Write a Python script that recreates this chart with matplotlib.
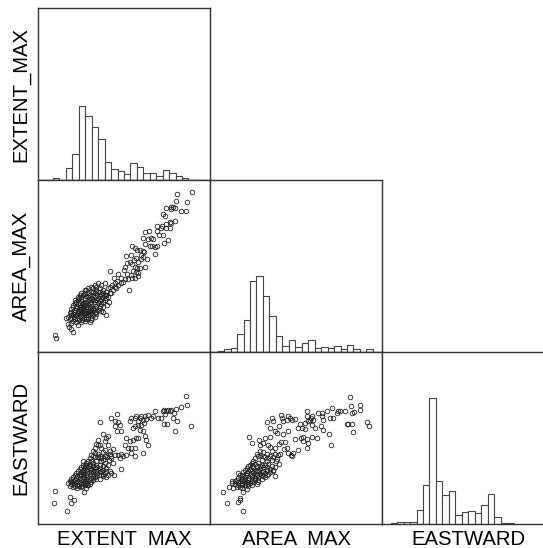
#!/usr/bin/env python3

import numpy as np
import matplotlib
matplotlib.use('Agg')
import matplotlib.pyplot as plt

# Variable names (all axes share a 0..516 unit range)
names = ['EXTENT_MAX', 'AREA_MAX', 'EASTWARD']
# bottom labels: the underscore sits below the canvas edge in the original
bottom_labels = ['EXTENT  MAX', 'AREA  MAX', 'EASTWARD']

# Diagonal histograms: first bin edge, bin width, bar heights
hist_extent_start, hist_extent_width = 45, 19.35
hist_extent = [6, 0, 37, 78, 223, 192, 160, 124, 54, 33, 27, 18, 51, 40, 21, 21, 12, 30, 21, 12, 6, 1]
hist_area_start, hist_area_width = 23, 19.4
hist_area = [3, 8, 13, 55, 97, 213, 227, 168, 109, 49, 19, 37, 16, 28, 37, 13, 16, 13, 19, 8, 22, 10, 0, 8]
hist_east_start, hist_east_width = 26, 19.4
hist_east = [4, 7, 7, 7, 43, 118, 379, 130, 86, 100, 28, 37, 40, 32, 58, 91, 22, 4, 4]

# EXTENT_MAX (x) vs AREA_MAX (y)
extent_area = [
    (461, 481), (416, 474), (415, 454), (446, 451), (385, 431), (398, 434), (405, 434), (410, 431),
    (400, 428), (430, 424), (444, 424), (376, 413), (380, 408), (395, 391), (412, 394), (385, 385),
    (400, 386), (373, 379), (357, 378), (370, 373), (385, 371), (396, 371), (333, 363), (322, 361),
    (357, 363), (362, 351), (374, 351), (314, 341), (330, 339), (340, 341), (345, 339), (390, 336),
    (378, 328), (322, 324), (335, 319), (343, 318), (357, 318), (350, 314), (283, 319), (290, 311),
    (296, 306), (305, 307), (315, 303), (318, 299), (310, 291), (350, 293), (315, 286), (265, 288),
    (278, 291), (293, 283), (287, 276), (275, 269), (300, 271), (310, 279), (328, 278), (268, 266),
    (283, 263), (290, 256), (297, 251), (305, 253), (320, 254), (262, 256), (217, 244), (258, 246),
    (286, 244), (293, 241), (300, 236), (268, 233), (240, 234), (278, 231), (250, 221), (228, 221),
    (260, 219), (270, 218), (282, 223), (290, 221), (300, 228), (238, 213), (272, 186), (248, 206),
    (255, 211),
    (230, 206), (222, 201), (215, 196), (210, 191), (200, 206), (190, 201), (180, 206), (170, 201),
    (160, 196), (150, 191), (145, 186), (165, 191), (175, 186), (185, 191), (195, 186), (205, 181),
    (215, 176), (225, 186), (235, 191), (140, 176), (150, 176), (160, 179), (170, 176), (180, 179),
    (190, 173), (200, 171), (210, 166), (130, 166), (140, 163), (150, 166), (160, 163), (170, 166),
    (180, 163), (190, 159), (200, 156), (212, 151), (120, 156), (130, 153), (140, 151), (150, 153),
    (160, 149), (170, 151), (180, 146), (190, 143), (208, 141), (110, 146), (120, 143), (130, 139),
    (140, 141), (150, 136), (160, 139), (170, 133), (185, 131), (195, 121), (105, 136), (115, 131),
    (125, 129), (135, 126), (145, 129), (155, 123), (165, 126), (175, 121), (100, 121), (110, 119),
    (120, 116), (130, 119), (140, 113), (150, 111), (160, 116), (190, 123), (98, 111), (108, 106),
    (118, 103), (128, 106), (138, 101), (150, 99), (162, 103), (172, 106), (205, 111), (85, 101),
    (95, 98), (105, 94), (115, 91), (128, 91), (140, 93), (155, 91), (90, 84), (100, 86), (120, 81),
    (92, 76), (98, 69), (105, 61), (50, 51), (53, 43), (195, 136), (178, 171), (130, 111), (122, 161),
    (112, 113), (145, 106), (135, 136), (165, 171), (155, 146),
    (125, 171), (135, 171), (145, 168), (155, 171), (165, 181), (185, 168), (195, 166), (205, 161),
    (115, 151), (125, 148), (135, 146), (145, 146), (155, 156), (165, 156), (175, 156), (185, 153),
    (195, 149), (105, 141), (115, 139), (125, 136), (135, 131), (145, 136), (155, 131), (165, 133),
    (175, 139), (185, 139), (100, 129), (110, 126), (120, 124), (130, 129), (140, 123), (150, 121),
    (160, 126), (170, 121), (180, 126), (95, 116), (105, 113), (115, 111), (125, 113), (135, 116),
    (145, 118), (155, 113), (165, 111), (175, 113), (90, 106), (100, 103), (112, 98), (122, 96),
    (133, 96), (145, 98), (160, 96), (175, 196), (185, 181), (195, 176), (205, 171), (220, 176),
    (230, 196), (240, 201), (140, 186), (130, 176), (120, 166), (110, 156),
]

# EXTENT_MAX (x) vs EASTWARD (y)
extent_east = [
    (443, 383), (447, 358), (428, 351), (415, 345), (400, 343), (390, 343), (385, 338), (375, 338),
    (378, 343), (395, 338), (408, 333), (405, 318), (380, 330), (370, 318), (360, 318), (350, 340),
    (345, 323), (340, 318), (330, 328), (320, 323), (310, 323), (305, 318), (295, 323), (290, 318),
    (280, 318), (275, 308), (300, 308), (315, 313), (318, 303), (325, 316), (310, 296), (300, 298),
    (290, 293), (285, 288), (305, 283), (315, 278), (320, 263), (323, 253), (330, 238), (315, 213),
    (280, 228), (290, 228), (295, 258), (285, 253), (300, 258), (275, 248), (265, 258), (262, 238),
    (270, 228), (278, 213), (292, 203), (416, 308), (378, 300), (386, 300), (410, 278), (460, 295),
    (237, 330), (220, 318), (230, 308), (240, 306), (245, 296), (232, 293), (185, 306), (238, 278),
    (250, 278), (195, 270), (205, 258), (210, 263), (180, 253), (200, 248), (185, 238), (175, 241),
    (210, 238), (190, 228), (225, 226), (230, 208), (240, 208), (250, 210), (245, 198), (255, 203),
    (265, 208), (225, 183), (248, 166), (220, 153), (228, 146), (215, 158),
    (170, 213), (180, 210), (195, 216), (205, 208), (215, 210), (200, 203), (190, 198), (180, 200),
    (165, 203), (155, 198), (175, 190), (188, 188), (200, 183), (212, 193), (220, 198), (145, 183),
    (155, 180), (165, 183), (175, 178), (185, 176), (195, 173), (205, 168), (210, 178), (130, 170),
    (140, 168), (150, 170), (160, 166), (170, 168), (180, 163), (190, 160), (200, 153), (210, 148),
    (120, 160), (128, 156), (138, 158), (148, 153), (158, 156), (168, 150), (178, 153), (188, 148),
    (110, 148), (118, 143), (128, 146), (138, 140), (148, 143), (158, 138), (170, 140), (185, 136),
    (205, 140), (100, 136), (110, 133), (120, 130), (130, 133), (140, 128), (150, 130), (160, 126),
    (90, 123), (98, 126), (108, 120), (118, 118), (128, 121), (140, 116), (150, 116), (95, 113),
    (105, 110), (118, 108), (130, 110), (137, 96), (148, 118), (50, 98), (48, 63), (95, 81),
    (108, 73), (98, 63), (87, 40), (135, 188), (160, 188), (172, 228), (180, 238), (165, 218),
    (200, 223), (215, 218),
    (135, 178), (145, 173), (155, 175), (165, 173), (175, 170), (185, 168), (195, 163), (205, 158),
    (125, 165), (135, 163), (145, 163), (155, 161), (165, 158), (175, 158), (185, 155), (195, 150),
    (115, 153), (125, 151), (135, 150), (145, 148), (155, 146), (165, 145), (175, 145), (195, 143),
    (105, 142), (115, 138), (125, 138), (135, 135), (145, 135), (155, 133), (165, 132), (175, 136),
    (95, 130), (105, 128), (115, 125), (125, 126), (135, 123), (145, 123), (155, 120), (100, 120),
    (110, 115), (122, 113), (133, 115), (143, 108), (160, 208), (170, 200), (185, 205), (195, 193),
    (208, 200), (218, 205), (150, 190), (140, 178),
]

# AREA_MAX (x) vs EASTWARD (y)
area_east = [
    (421, 382), (422, 353), (449, 358), (450, 341), (431, 335), (425, 333), (405, 338), (390, 340),
    (385, 338), (380, 333), (365, 348), (350, 340), (360, 318), (370, 318), (335, 323), (340, 313),
    (337, 333), (325, 333), (307, 323), (303, 318), (300, 313), (310, 313), (290, 340), (290, 323),
    (295, 308), (285, 303), (285, 286), (270, 300), (263, 288), (275, 288), (305, 298), (315, 288),
    (333, 293), (340, 283), (357, 270), (362, 236), (320, 258), (305, 260), (290, 256), (280, 260),
    (273, 258), (255, 255), (280, 248), (295, 243), (290, 228), (265, 223), (250, 213), (245, 203),
    (243, 206), (235, 213), (470, 306), (478, 293), (425, 300), (413, 300), (410, 300), (430, 276),
    (235, 323), (240, 318), (247, 313), (255, 315), (230, 313), (220, 308), (213, 328), (215, 318),
    (185, 318), (190, 308), (170, 306), (195, 278), (180, 288), (207, 293), (200, 273), (233, 278),
    (218, 270), (213, 246), (225, 246), (207, 240), (195, 228), (180, 230), (175, 236), (165, 258),
    (147, 253), (160, 243), (150, 236), (125, 243), (118, 260), (180, 260), (221, 226), (230, 228),
    (150, 218), (160, 216), (170, 210), (185, 218), (195, 210), (203, 206), (210, 210), (180, 203),
    (165, 200), (145, 203), (135, 198), (155, 193), (170, 188), (185, 193), (197, 188), (207, 180),
    (125, 183), (135, 180), (145, 183), (155, 178), (165, 176), (175, 180), (185, 173), (195, 170),
    (190, 158), (195, 143), (110, 168), (120, 166), (130, 170), (140, 163), (150, 166), (160, 160),
    (170, 163), (180, 156), (100, 156), (110, 153), (120, 150), (130, 153), (140, 148), (150, 150),
    (160, 143), (170, 146), (85, 153), (95, 143), (105, 140), (115, 138), (125, 136), (135, 138),
    (145, 133), (155, 136), (80, 133), (90, 128), (100, 130), (110, 126), (120, 123), (130, 126),
    (140, 120), (65, 130), (75, 120), (85, 118), (95, 116), (105, 118), (115, 113), (57, 110),
    (70, 108), (97, 108), (100, 96), (40, 96), (50, 62), (85, 65), (90, 73), (90, 78), (98, 39),
    (115, 173), (125, 173), (140, 173), (150, 173), (160, 170), (170, 170), (180, 166), (190, 163),
    (105, 161), (115, 160), (125, 160), (135, 158), (145, 158), (155, 155), (165, 153), (175, 150),
    (90, 148), (100, 148), (110, 146), (125, 143), (135, 143), (145, 140), (155, 146), (165, 140),
    (85, 138), (95, 135), (105, 133), (115, 131), (125, 130), (135, 131), (145, 126), (75, 128),
    (85, 126), (95, 123), (105, 122), (115, 120), (125, 118), (65, 122), (80, 112), (90, 110),
    (110, 106), (140, 210), (150, 206), (160, 203), (175, 198), (190, 200), (200, 196), (130, 190),
    (120, 176),
]

FRAME = '#333333'


def panel(fig, row, col):
    # grid of 172 px cells starting at (38, 8) on a 543x548 canvas
    left, top, size = 38 + 172 * col, 8 + 172 * row, 172
    ax = fig.add_axes([left / 543, 1 - (top + size) / 548, size / 543, size / 548])
    ax.set_xlim(0, 516)
    ax.set_ylim(0, 516)
    ax.set_xticks([])
    ax.set_yticks([])
    for s in ax.spines.values():
        s.set_color(FRAME)
        s.set_linewidth(1.0)
    return ax


def draw_hist(ax, start, width, heights):
    edges = start + width * np.arange(len(heights))
    ax.bar(edges, heights, width=width, align='edge', color='white',
           edgecolor='#444444', linewidth=0.8)


def draw_scatter(ax, pts):
    pts = np.array(pts)
    ax.plot(pts[:, 0], pts[:, 1], 'o', markersize=3.3, markerfacecolor='none',
            markeredgecolor='#222222', markeredgewidth=0.6)


def main():
    plt.rcParams['font.family'] = ['Liberation Sans', 'DejaVu Sans']
    fig = plt.figure(figsize=(5.43, 5.48), dpi=100)

    draw_hist(panel(fig, 0, 0), hist_extent_start, hist_extent_width, hist_extent)
    draw_scatter(panel(fig, 1, 0), extent_area)
    draw_hist(panel(fig, 1, 1), hist_area_start, hist_area_width, hist_area)
    draw_scatter(panel(fig, 2, 0), extent_east)
    draw_scatter(panel(fig, 2, 1), area_east)
    draw_hist(panel(fig, 2, 2), hist_east_start, hist_east_width, hist_east)

    for i, name in enumerate(names):
        cy = 8 + 172 * i + 86
        fig.text(21 / 543, 1 - cy / 548, name, rotation=90, ha='center', va='center',
                 fontsize=14.6, color='black')
        cx = 38 + 172 * i + 86
        fig.text(cx / 543, 1 - 545 / 548, bottom_labels[i], ha='center', va='baseline',
                 fontsize=14.6, color='black')

    fig.savefig('out.png', dpi=100)


if __name__ == '__main__':
    main()
